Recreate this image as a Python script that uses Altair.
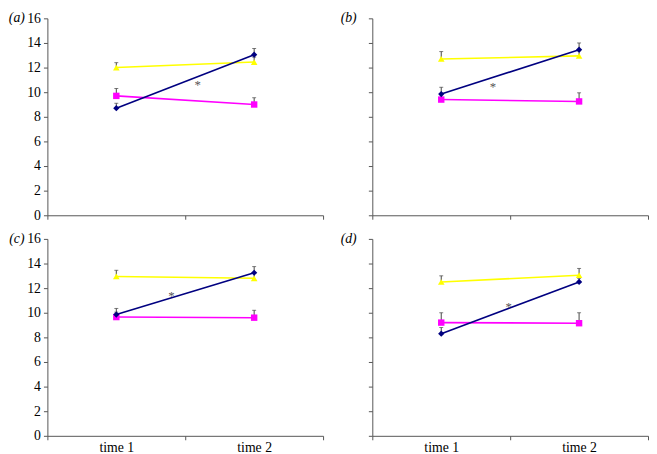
import altair as alt
import pandas as pd

panel_labels = ["(a)", "(b)", "(c)", "(d)"]
time_labels = ["time 1", "time 2"]
time_pos = [0.5, 1.5]
x_tick_values = [0, 0.5, 1, 1.5, 2]
y_tick_values = [0, 2, 4, 6, 8, 10, 12, 14, 16]

series_names = ["yellow", "magenta", "navy"]
series_colors = ["#FFFF00", "#FF00FF", "#000080"]
series_shapes = ["triangle-up", "square", "diamond"]
series_sizes = [45, 40, 28]

# means per panel (a, b, c, d)
yellow_t1 = [12.0, 12.7, 12.95, 12.5]
yellow_t2 = [12.45, 12.95, 12.8, 13.05]
magenta_t1 = [9.7, 9.4, 9.65, 9.2]
magenta_t2 = [9.0, 9.25, 9.6, 9.15]
navy_t1 = [8.7, 9.85, 9.85, 8.3]
navy_t2 = [13.05, 13.45, 13.25, 12.5]

# upward error bar lengths
yellow_e1 = [0.4, 0.6, 0.5, 0.5]
yellow_e2 = [0.4, 0.4, 0.4, 0.55]
magenta_e1 = [0.6, 0.4, 0.4, 0.8]
magenta_e2 = [0.55, 0.7, 0.6, 0.85]
navy_e1 = [0.4, 0.55, 0.5, 0.5]
navy_e2 = [0.5, 0.55, 0.5, 0.3]

star_x = [1.09, 0.875, 0.9, 0.99]
star_y = [10.6, 10.4, 11.35, 10.45]

label_x_offset = [-31, -24, -31, -24]

FONT = "Liberation Serif"
FONT_SIZE = 14
AXIS_COLOR = "#555555"


def make_panel(i):
    means = {
        "yellow": (yellow_t1[i], yellow_t2[i], yellow_e1[i], yellow_e2[i]),
        "magenta": (magenta_t1[i], magenta_t2[i], magenta_e1[i], magenta_e2[i]),
        "navy": (navy_t1[i], navy_t2[i], navy_e1[i], navy_e2[i]),
    }
    rows = []
    for s in series_names:
        m1, m2, e1, e2 = means[s]
        rows.append({"series": s, "x": time_pos[0], "y": m1, "top": m1 + e1})
        rows.append({"series": s, "x": time_pos[1], "y": m2, "top": m2 + e2})
    df = pd.DataFrame(rows)

    bottom = i >= 2
    left = i % 2 == 0

    xscale = alt.Scale(domain=[0, 2], nice=False, zero=False)
    yscale = alt.Scale(domain=[0, 16], nice=False)

    label_expr = (
        f"datum.value == {time_pos[0]} ? '{time_labels[0]}' : "
        f"datum.value == {time_pos[1]} ? '{time_labels[1]}' : ''"
    )
    xaxis = alt.Axis(
        values=x_tick_values,
        grid=False,
        title=None,
        tickSize=4,
        labelPadding=1,
        labels=bottom,
        labelExpr=label_expr,
        labelOverlap=False,
        labelFlush=False,
        tickOpacity={"condition": {"test": "datum.value % 1 === 0", "value": 1}, "value": 0},
    )
    yaxis = alt.Axis(
        values=y_tick_values,
        grid=False,
        title=None,
        tickSize=4,
        labelPadding=3,
        labels=left,
        labelOverlap=False,
        labelFlush=False,
    )

    x = alt.X("x:Q", scale=xscale, axis=xaxis)
    y = alt.Y("y:Q", scale=yscale, axis=yaxis)
    ytop = alt.Y("top:Q", scale=yscale, axis=yaxis)
    color = alt.Color("series:N", scale=alt.Scale(domain=series_names, range=series_colors), legend=None)

    base = alt.Chart(df)
    err = base.mark_rule(color="#444444", strokeWidth=1).encode(x=x, y=y, y2="top:Q")
    cap = base.mark_tick(orient="horizontal", size=4, thickness=1, color="#444444").encode(x=x, y=ytop)
    lines = base.mark_line(strokeWidth=1.6).encode(x=x, y=y, color=color, detail="series:N")
    points = base.mark_point(filled=True, opacity=1).encode(
        x=x,
        y=y,
        color=color,
        shape=alt.Shape("series:N", scale=alt.Scale(domain=series_names, range=series_shapes), legend=None),
        size=alt.Size("series:N", scale=alt.Scale(domain=series_names, range=series_sizes), legend=None),
    )
    star_df = pd.DataFrame({"x": [star_x[i]], "y": [star_y[i]]})
    star = alt.Chart(star_df).mark_text(
        text="*", font=FONT, fontSize=13, color="#555555", baseline="middle"
    ).encode(x=x, y=y)
    label_df = pd.DataFrame({"label": [panel_labels[i]]})
    label = alt.Chart(label_df).mark_text(
        font=FONT, fontSize=FONT_SIZE, fontStyle="italic",
        align="center", baseline="middle", color="black",
    ).encode(x=alt.value(label_x_offset[i]), y=alt.value(0), text="label:N")

    return alt.layer(err, cap, lines, points, star, label).properties(width=280, height=200)


panels = [make_panel(i) for i in range(4)]

chart = (
    alt.concat(*panels, columns=2, spacing={"row": 10, "column": 16})
    .properties(padding={"left": 0, "top": 0, "right": 0, "bottom": 0})
    .configure_view(stroke=None)
    .configure_axis(
        labelFont=FONT,
        labelFontSize=FONT_SIZE,
        labelColor="black",
        domainColor=AXIS_COLOR,
        tickColor=AXIS_COLOR,
        domainWidth=1,
        tickWidth=1,
    )
)

chart.save("out.html", embed_options={"renderer": "svg", "actions": False})
